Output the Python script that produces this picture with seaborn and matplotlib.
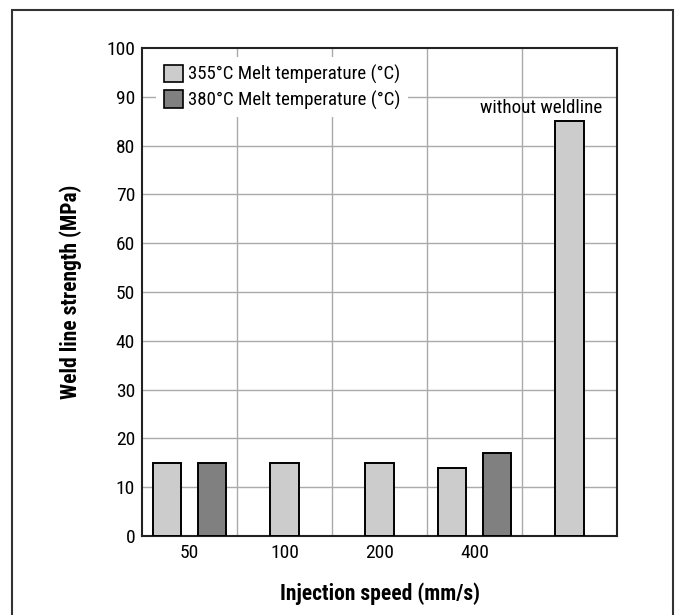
import matplotlib
matplotlib.use("Agg")
import matplotlib.pyplot as plt
from matplotlib.patches import Patch, Rectangle
import seaborn as sns
import pandas as pd

# ---- data ----
categories = ["50", "100", "200", "400", "without weldline"]
tick_labels = ["50", "100", "200", "400", ""]
series_names = ["355°C Melt temperature (°C)", "380°C Melt temperature (°C)"]

# paired bars (both temperatures measured)
pair_speeds = ["50", "50", "400", "400"]
pair_series = [series_names[0], series_names[1], series_names[0], series_names[1]]
pair_values = [15, 15, 14, 17]

# single bars (355 °C only)
single_speeds = ["100", "200", "without weldline"]
single_values = [15, 15, 85]

annotation_text = "without weldline"
colors = ["#cccccc", "#808080"]

sns.set_theme(style="white")
plt.rcParams["font.family"] = ["Roboto Condensed", "DejaVu Sans"]

fig = plt.figure(figsize=(6.77, 6.15), dpi=100)
ax = fig.add_axes([142 / 677, 1 - 536 / 615, 475 / 677, 488 / 615])

df_pair = pd.DataFrame({"speed": pair_speeds, "series": pair_series, "value": pair_values})
df_single = pd.DataFrame({"speed": single_speeds, "value": single_values})

sns.barplot(data=df_pair, x="speed", y="value", hue="series", order=categories,
            hue_order=series_names, palette=colors, width=0.94, gap=0.36,
            edgecolor="black", linewidth=1.4, saturation=1, ax=ax, legend=False,
            zorder=3)
sns.barplot(data=df_single, x="speed", y="value", order=categories,
            color=colors[0], width=0.3, edgecolor="black", linewidth=1.4,
            saturation=1, ax=ax, zorder=3)

ax.set_xlim(-0.5, 4.5)
ax.set_ylim(0, 100)
ax.set_yticks(range(0, 101, 10))
ax.set_xticks(range(len(categories)))
ax.set_xticklabels(tick_labels)
ax.tick_params(axis="y", length=0, labelsize=14, colors="black", pad=5)
ax.tick_params(axis="x", length=0, labelsize=14, colors="black", pad=6)

# gridlines: horizontal at y ticks, vertical at category boundaries
for yv in range(10, 100, 10):
    ax.axhline(yv, color="#aaaaaa", lw=1, zorder=0)
for xv in [0.5, 1.5, 2.5, 3.5]:
    ax.axvline(xv, color="#aaaaaa", lw=1, zorder=0)

for sp in ax.spines.values():
    sp.set_visible(True)
    sp.set_color("#222222")
    sp.set_linewidth(1.5)

ax.set_xlabel("Injection speed (mm/s)", fontsize=15.5, fontweight="bold", color="black")
ax.set_ylabel("Weld line strength (MPa)", fontsize=15.5, fontweight="bold", color="black")
ax.xaxis.set_label_coords(0.5, -0.096)
ax.yaxis.set_label_coords(-0.126, 0.5)

ax.text(4.34, 87.7, annotation_text, ha="right", va="center", fontsize=13.7,
        color="black", zorder=4)

handles = [Patch(facecolor=c, edgecolor="black", linewidth=1.2) for c in colors]
leg = ax.legend(handles, series_names, loc="upper left",
                bbox_to_anchor=(0.0295, 0.9816), borderaxespad=0,
                borderpad=0.4, fontsize=13.6, handlelength=1.05, handleheight=1.05,
                handletextpad=0.25, labelspacing=0.33, frameon=True,
                fancybox=False)
leg.get_frame().set_facecolor("white")
leg.get_frame().set_edgecolor("none")
leg.get_frame().set_alpha(1)
leg.set_zorder(5)
for t in leg.get_texts():
    t.set_color("black")

# outer frame
fig.patches.append(Rectangle((12 / 677, -0.01), (673 - 12) / 677, 1.01 - 10 / 615,
                             transform=fig.transFigure, fill=False,
                             edgecolor="#333333", linewidth=1.5))

fig.savefig("out.png", dpi=100)
